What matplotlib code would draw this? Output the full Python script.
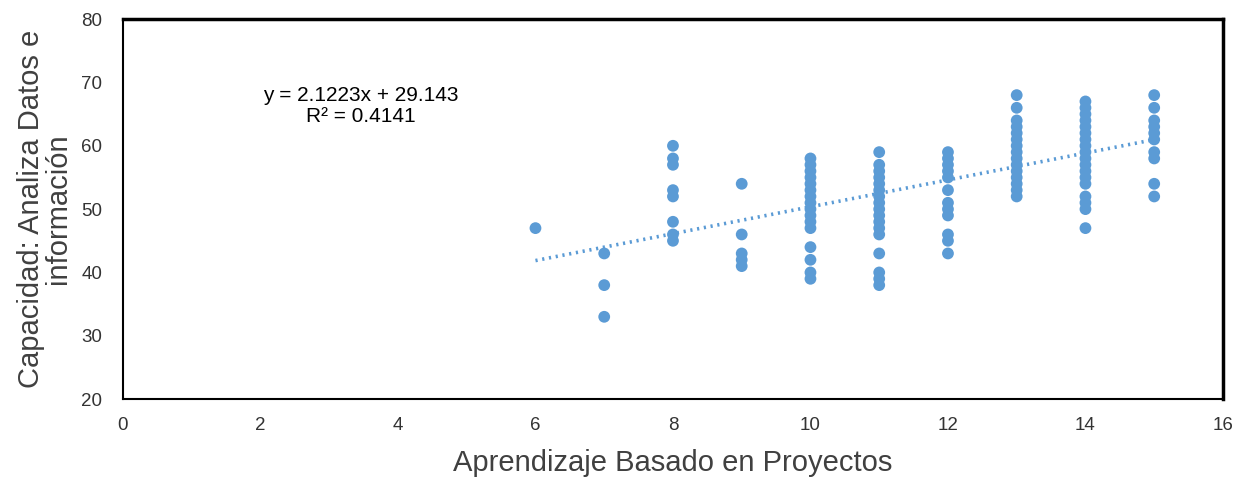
import matplotlib
matplotlib.use("Agg")
from matplotlib import pyplot as plt
import numpy as np

plt.rcParams['font.family'] = ['Liberation Sans', 'DejaVu Sans']

# scores per value of "Aprendizaje Basado en Proyectos"
x_values = [6, 7, 8, 9, 10, 11, 12, 13, 14, 15]
y_groups = [
    [47],
    [43, 38, 33],
    [60, 58, 57, 53, 52, 48, 46, 45],
    [54, 46, 43, 42, 41],
    [58, 57, 56, 55, 54, 53, 52, 51, 50, 49, 48, 47, 44, 42, 40, 39],
    [59, 57, 56, 55, 54, 53, 52, 51, 50, 49, 48, 47, 46, 43, 40, 39, 38],
    [59, 58, 57, 56, 55, 53, 51, 50, 49, 46, 45, 43],
    [68, 66, 64, 63, 62, 61, 60, 59, 58, 57, 56, 55, 54, 53, 52],
    [67, 66, 65, 64, 63, 62, 61, 60, 59, 58, 57, 56, 55, 54, 52, 51, 50, 47],
    [68, 66, 64, 63, 62, 61, 59, 58, 54, 52],
]
slope = 2.1223
intercept = 29.143
r2 = 0.4141

xs = []
ys = []
for xv, grp in zip(x_values, y_groups):
    for yv in grp:
        xs.append(xv)
        ys.append(yv)

blue = '#5B9BD5'
fig = plt.figure(figsize=(12.46, 4.78), dpi=100)
ax = fig.add_axes([0.0987, 0.165, 0.8828, 0.795])

ax.scatter(xs, ys, s=72, color=blue, edgecolors='none', zorder=3)

tx = np.array([min(x_values), max(x_values)])
ax.plot(tx, slope * tx + intercept, color=blue, lw=2.6, linestyle=(0, (0.6, 1.3)), zorder=2)

ax.text(3.46, 68.0, 'y = %.4fx + %.3f' % (slope, intercept), ha='center', va='center', fontsize=15, color='#000000')
ax.text(3.46, 64.6, 'R² = %.4f' % r2, ha='center', va='center', fontsize=15, color='#000000')

ax.set_xlim(0, 16)
ax.set_ylim(20, 80)
ax.set_xticks(range(0, 17, 2))
ax.set_yticks(range(20, 81, 10))
ax.tick_params(length=0, labelsize=13.5, colors='#333333')
ax.tick_params(axis='x', pad=13)
ax.tick_params(axis='y', pad=15)

for side in ['left', 'bottom']:
    ax.spines[side].set_linewidth(1.5)
for side in ['top', 'right']:
    ax.spines[side].set_linewidth(2.5)
for sp in ax.spines.values():
    sp.set_color('black')

ax.set_xlabel('Aprendizaje Basado en Proyectos', fontsize=21, color='#404040')
ax.xaxis.set_label_coords(0.5, -0.132)
ax.set_ylabel('Capacidad: Analiza Datos e\ninformación', fontsize=21, color='#404040', linespacing=0.95)
ax.yaxis.set_label_coords(-0.046, 0.5)

fig.savefig('out.png', dpi=100)
